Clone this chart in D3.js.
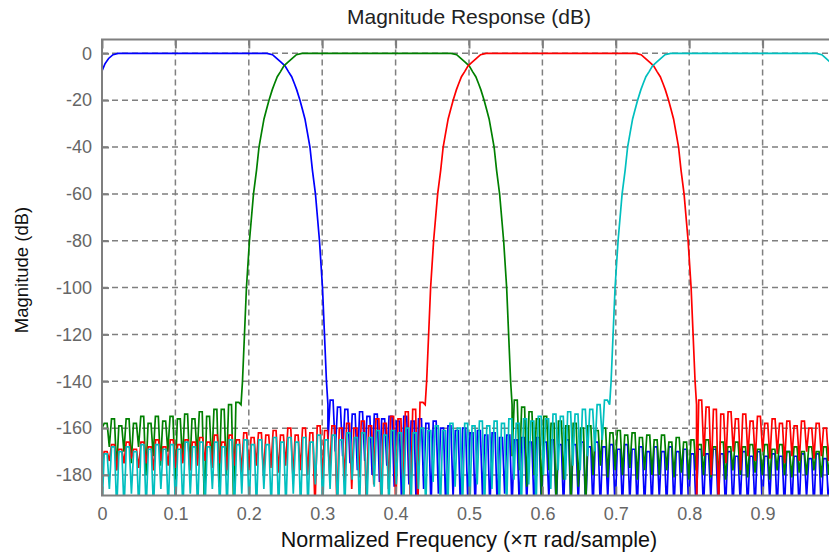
<!DOCTYPE html>
<html>
<head>
<meta charset="utf-8">
<script src="https://cdn.jsdelivr.net/npm/d3@7/dist/d3.min.js"></script>
<style>
  body { margin: 0; background: #fff; }
  svg { display: block; font-family: "Liberation Sans", Arial, sans-serif; }
</style>
</head>
<body>
<script>
'use strict';

// tick values and labels
const xTicks = [0, 0.1, 0.2, 0.3, 0.4, 0.5, 0.6, 0.7, 0.8, 0.9];
const xTickLabels = ['0', '0.1', '0.2', '0.3', '0.4', '0.5', '0.6', '0.7', '0.8', '0.9'];
const yTicks = [0, -20, -40, -60, -80, -100, -120, -140, -160, -180];
const yTickLabels = ['0', '-20', '-40', '-60', '-80', '-100', '-120', '-140', '-160', '-180'];

// passband + transition edges: [freq (xpi), dB]
const blueEdge = [[0,-7.5],[0.004,-4.5],[0.009,-2.2],[0.015,-0.6],[0.022,0],[0.2248,0],[0.2323,-0.6],[0.238,-2.2],[0.2438,-3.8],[0.2493,-5.3],[0.254,-7.8],[0.2584,-10],[0.2622,-13],[0.2652,-15.5],[0.2697,-20],[0.2731,-24],[0.2765,-28],[0.2799,-34],[0.2833,-40],[0.2867,-50],[0.2908,-60],[0.2963,-80],[0.3004,-100],[0.3031,-120],[0.3058,-140],[0.3078,-150]];
const greenEdge = [[0.1894,-150],[0.1914,-140],[0.1941,-120],[0.1968,-100],[0.2009,-80],[0.2064,-60],[0.2105,-50],[0.2139,-40],[0.2173,-34],[0.2207,-28],[0.2241,-24],[0.2275,-20],[0.232,-15.5],[0.235,-13],[0.2388,-10],[0.2432,-7.8],[0.2479,-5.3],[0.2534,-3.8],[0.2592,-2.2],[0.2649,-0.6],[0.2724,0],[0.4757,0],[0.4832,-0.6],[0.4889,-2.2],[0.4947,-3.8],[0.5002,-5.3],[0.5049,-7.8],[0.5093,-10],[0.5131,-13],[0.5161,-15.5],[0.5206,-20],[0.524,-24],[0.5274,-28],[0.5308,-34],[0.5342,-40],[0.5376,-50],[0.5417,-60],[0.5472,-80],[0.5513,-100],[0.554,-120],[0.5567,-140],[0.5587,-150]];
const redEdge = [[0.4403,-150],[0.4423,-140],[0.445,-120],[0.4477,-100],[0.4518,-80],[0.4573,-60],[0.4614,-50],[0.4648,-40],[0.4682,-34],[0.4716,-28],[0.475,-24],[0.4784,-20],[0.4829,-15.5],[0.4859,-13],[0.4897,-10],[0.4941,-7.8],[0.4988,-5.3],[0.5043,-3.8],[0.5101,-2.2],[0.5158,-0.6],[0.5233,0],[0.727,0],[0.7345,-0.6],[0.7402,-2.2],[0.746,-3.8],[0.7515,-5.3],[0.7562,-7.8],[0.7606,-10],[0.7644,-13],[0.7674,-15.5],[0.7719,-20],[0.7753,-24],[0.7787,-28],[0.7821,-34],[0.7855,-40],[0.7889,-50],[0.793,-60],[0.7985,-80],[0.8026,-100],[0.8053,-120],[0.808,-140],[0.81,-150]];
const cyanEdge = [[0.6916,-150],[0.6936,-140],[0.6963,-120],[0.699,-100],[0.7031,-80],[0.7086,-60],[0.7127,-50],[0.7161,-40],[0.7195,-34],[0.7229,-28],[0.7263,-24],[0.7297,-20],[0.7342,-15.5],[0.7372,-13],[0.741,-10],[0.7454,-7.8],[0.7501,-5.3],[0.7556,-3.8],[0.7614,-2.2],[0.7671,-0.6],[0.7746,0],[0.9732,0],[0.9807,-0.6],[0.9864,-2.2],[0.9922,-3.8],[0.9977,-5.3],[1.0,-6.5]];

// stopband ripples: top of each lobe and depth of the notch before it
const blueTops = [-148,-151,-152,-154,-153,-155,-154,-156,-155,-157,-155,-157,-156,-158,-157,-160,-159,-161,-160,-162,-161,-163,-162,-164,-163,-165,-164,-166,-164,-166,-165,-167,-165,-167,-166,-168,-166,-168,-167,-169,-167,-169,-168,-170,-168,-170,-168,-170,-169,-171,-169,-171,-169,-171,-170,-172,-170,-172,-170,-172,-171,-172,-170,-172,-171,-173,-171,-173,-172];
const blueNotches = [-166,-170,-172,-175,-178,-174,-180,-183,-176,-185,-192,-184,-195,-186,-195,-188,-195,-190,-195,-192,-195,-190,-195,-195,-188,-195,-195,-192,-195,-195,-190,-195,-195,-195,-192,-195,-195,-195,-190,-195,-195,-192,-195,-195,-195,-190,-195,-195,-193,-195,-195,-195,-190,-195,-195,-195,-192,-195,-195,-195,-191,-195,-195,-195,-195,-190,-195,-195,-195];

const greenLoTops = [-158,-156,-159,-156,-158,-155,-158,-155,-157,-155,-156,-154,-156,-153,-155,-152,-152,-150,-149];
const greenLoNotches = [-160,-168,-178,-170,-175,-168,-180,-172,-176,-170,-182,-174,-178,-172,-195,-176,-185,-180,-195];
const greenHiTops = [-148,-151,-153,-156,-155,-158,-157,-159,-158,-160,-159,-161,-160,-162,-161,-163,-162,-164,-163,-165,-163,-166,-164,-166,-165,-167,-165,-168,-166,-168,-166,-168,-167,-169,-167,-169,-167,-170,-168,-170,-168,-170,-168,-170];
const greenHiNotches = [-172,-178,-185,-180,-190,-178,-195,-182,-195,-185,-195,-180,-176,-181,-178,-180,-177,-182,-178,-180,-180,-178,-181,-179,-182,-178,-180,-181,-179,-182,-178,-180,-181,-179,-180,-182,-178,-180,-181,-179,-180,-178,-181,-180];

const redLoTops = [-170,-167,-169,-166,-169,-166,-168,-165,-168,-165,-167,-165,-166,-164,-166,-163,-166,-163,-165,-162,-164,-162,-163,-161,-163,-160,-163,-160,-162,-159,-161,-159,-160,-158,-160,-157,-159,-156,-158,-155,-156,-153,-152,-149];
const redLoNotches = [-176,-174,-178,-175,-173,-177,-175,-178,-174,-176,-177,-175,-178,-176,-174,-177,-175,-178,-176,-179,-178,-176,-180,-177,-179,-176,-181,-178,-180,-195,-182,-180,-195,-183,-186,-181,-195,-184,-195,-186,-195,-188,-195,-195];
const redHiTops = [-148,-151,-152,-154,-153,-156,-154,-157,-155,-158,-156,-158,-157,-159,-157,-160,-158,-160,-159];
const redHiNotches = [-195,-172,-180,-195,-175,-170,-178,-172,-174,-170,-173,-171,-175,-172,-174,-170,-173,-172,-174];

const cyanTops = [-171,-168,-170,-168,-170,-167,-169,-167,-169,-167,-169,-166,-168,-166,-168,-166,-168,-165,-167,-165,-167,-165,-167,-164,-166,-164,-166,-164,-166,-163,-165,-163,-165,-162,-164,-162,-164,-161,-163,-161,-162,-160,-162,-160,-161,-159,-161,-158,-160,-158,-159,-157,-159,-157,-158,-156,-158,-156,-157,-155,-156,-154,-155,-153,-154,-152,-152,-150,-148];
const cyanNotches = [-195,-186,-195,-195,-188,-195,-195,-195,-186,-195,-195,-195,-188,-195,-195,-186,-195,-195,-195,-188,-195,-195,-186,-195,-195,-195,-188,-195,-195,-184,-195,-186,-195,-195,-182,-195,-195,-185,-195,-195,-184,-195,-195,-186,-195,-183,-195,-195,-185,-195,-195,-184,-195,-186,-195,-195,-182,-195,-184,-195,-180,-186,-178,-182,-176,-178,-172,-170,-165];

(function() {

  let svgContainer = '';
  let plotLeft = 102, plotRight = 836, plotTop = 39.5, plotBottom = 495.5;

  window.onload = function() {
    svgContainer = d3.select('body')
      .append('svg')
      .attr('width', 829)
      .attr('height', 553);

    let map = drawAxes();

    // one entry per filter, drawn in this order (cyan ends up on top)
    let filters = [
      { color: '#0000ff', edge: blueEdge, stops: [[0.3078, 1.0, blueTops, blueNotches]] },
      { color: '#008000', edge: greenEdge, stops: [[0, 0.1894, greenLoTops, greenLoNotches], [0.5587, 1.0, greenHiTops, greenHiNotches]] },
      { color: '#ff0000', edge: redEdge, stops: [[0, 0.4403, redLoTops, redLoNotches], [0.81, 1.0, redHiTops, redHiNotches]] },
      { color: '#00bfbf', edge: cyanEdge, stops: [[0, 0.6916, cyanTops, cyanNotches]] }
    ];
    plotData(map, filters);
    drawFrame(map);
    makeLabels();
  };

  // join the edge points with the stopband lobes into one sorted series
  function buildSeries(edge, stops) {
    let pts = edge.map((d) => ({ f: d[0], db: d[1] }));
    stops.forEach((s) => {
      let w = (s[1] - s[0]) / s[2].length;
      s[2].forEach((top, i) => {
        let f0 = s[0] + i * w;
        pts.push({ f: f0, db: s[3][i] });
        pts.push({ f: f0 + 0.3 * w, db: top });
        pts.push({ f: f0 + 0.7 * w, db: top });
      });
    });
    pts.sort((a, b) => a.f - b.f);
    return pts;
  }

  function drawAxes() {
    let xScale = d3.scaleLinear().domain([0, 1]).range([plotLeft, plotRight]);
    let yScale = d3.scaleLinear().domain([-188.75, 5.9]).range([plotBottom, plotTop]);

    // dashed grid
    let grid = svgContainer.append('g')
      .attr('stroke', '#7f7f7f')
      .attr('stroke-width', 1.5)
      .attr('stroke-dasharray', '6,4');
    grid.selectAll('.vgrid')
      .data(xTicks.slice(1))
      .enter()
      .append('line')
        .attr('x1', (d) => xScale(d))
        .attr('x2', (d) => xScale(d))
        .attr('y1', plotTop)
        .attr('y2', plotBottom);
    grid.selectAll('.hgrid')
      .data(yTicks)
      .enter()
      .append('line')
        .attr('x1', plotLeft)
        .attr('x2', plotRight)
        .attr('y1', (d) => yScale(d))
        .attr('y2', (d) => yScale(d));

    return { xScale: xScale, yScale: yScale };
  }

  function plotData(map, filters) {
    svgContainer.append('clipPath')
      .attr('id', 'plotClip')
      .append('rect')
        .attr('x', plotLeft)
        .attr('y', plotTop)
        .attr('width', plotRight - plotLeft)
        .attr('height', plotBottom - plotTop);

    let line = d3.line()
      .x((d) => map.xScale(d.f))
      .y((d) => map.yScale(d.db));

    let g = svgContainer.append('g').attr('clip-path', 'url(#plotClip)');
    filters.forEach((flt) => {
      g.append('path')
        .datum(buildSeries(flt.edge, flt.stops))
        .attr('fill', 'none')
        .attr('stroke', flt.color)
        .attr('stroke-width', 1.7)
        .attr('stroke-linejoin', 'miter')
        .attr('d', line);
    });
  }

  // box, inward ticks and tick labels
  function drawFrame(map) {
    let xAxis = d3.axisBottom(map.xScale).tickValues(xTicks)
      .tickFormat((d, i) => xTickLabels[i]).tickSize(-9).tickPadding(12);
    let gx = svgContainer.append('g')
      .attr('transform', 'translate(0,' + plotBottom + ')')
      .call(xAxis);

    let topAxis = d3.axisTop(map.xScale).tickValues(xTicks).tickFormat('').tickSize(-9);
    let gt = svgContainer.append('g')
      .attr('transform', 'translate(0,' + plotTop + ')')
      .call(topAxis);

    let yAxis = d3.axisLeft(map.yScale).tickValues(yTicks)
      .tickFormat((d, i) => yTickLabels[i]).tickSize(-7).tickPadding(10);
    let gy = svgContainer.append('g')
      .attr('transform', 'translate(' + plotLeft + ',0)')
      .call(yAxis);

    [gx, gt, gy].forEach((g) => {
      g.select('.domain').remove();
      g.selectAll('line').attr('stroke', '#7f7f7f').attr('stroke-width', 2);
      g.selectAll('text')
        .attr('fill', '#666')
        .style('font-family', '"Liberation Sans", Arial, sans-serif')
        .style('font-size', '18px');
    });

    svgContainer.append('rect')
      .attr('x', plotLeft)
      .attr('y', plotTop)
      .attr('width', plotRight - plotLeft)
      .attr('height', plotBottom - plotTop)
      .attr('fill', 'none')
      .attr('stroke', '#7f7f7f')
      .attr('stroke-width', 2);
  }

  function makeLabels() {
    svgContainer.append('text')
      .attr('x', 469)
      .attr('y', 24)
      .attr('text-anchor', 'middle')
      .attr('fill', '#222')
      .style('font-size', '21px')
      .text('Magnitude Response (dB)');

    svgContainer.append('text')
      .attr('x', 469)
      .attr('y', 547)
      .attr('text-anchor', 'middle')
      .attr('fill', '#111')
      .style('font-size', '21.5px')
      .text('Normalized Frequency (\u00d7\u03c0 rad/sample)');

    svgContainer.append('text')
      .attr('transform', 'translate(28, 270)rotate(-90)')
      .attr('text-anchor', 'middle')
      .attr('fill', '#111')
      .style('font-size', '18.5px')
      .text('Magnitude (dB)');
  }

})();
</script>
</body>
</html>
